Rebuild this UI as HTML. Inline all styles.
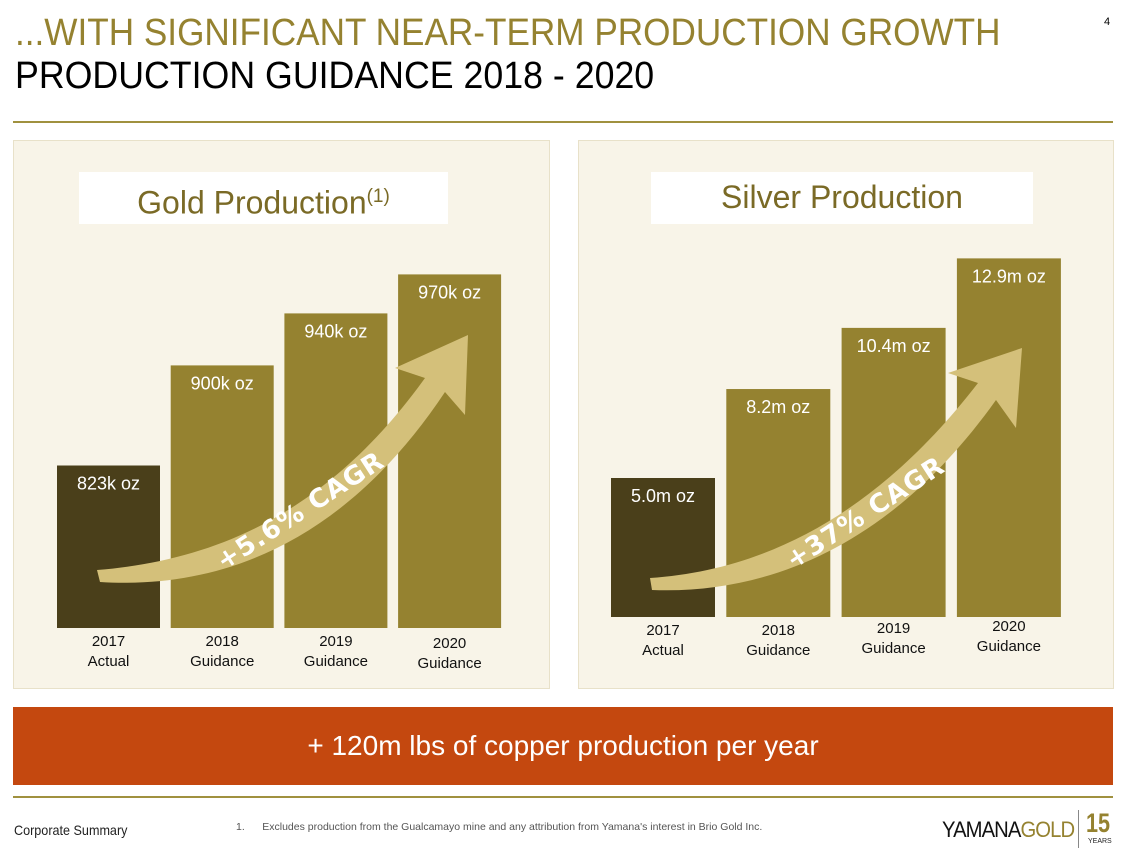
<!DOCTYPE html>
<html><head><meta charset="utf-8"><style>
body{margin:0;width:1145px;height:850px;background:#fff;position:relative;overflow:hidden;font-family:"Liberation Sans",sans-serif}
.a{position:absolute}
.t1{left:15px;top:12px;font-size:38px;color:#958230;transform:scaleX(0.925);transform-origin:left top;white-space:nowrap}
.t2{left:15px;top:55px;font-size:38px;color:#000;transform:scaleX(0.94);transform-origin:left top;white-space:nowrap}
.panel{background:#f8f4e8;border:1px solid #e8e1c9}
.ptitle{background:#fff;color:#7a6a26;font-size:32px;text-align:center;line-height:50px}
</style></head><body>
<div class="a t1">...WITH SIGNIFICANT NEAR-TERM PRODUCTION GROWTH</div>
<div class="a t2">PRODUCTION GUIDANCE 2018 - 2020</div>
<div class="a" style="left:1104px;top:16px;font-size:11px">4</div>
<div class="a" style="left:13px;top:121px;width:1100px;height:2px;background:#a0913f"></div>

<div class="a panel" style="left:13px;top:140px;width:535px;height:547px"></div>
<div class="a panel" style="left:578px;top:140px;width:534px;height:547px"></div>
<div class="a ptitle" style="left:79px;top:172px;width:369px;height:52px">Gold Production<sup style="font-size:19px">(1)</sup></div>
<div class="a ptitle" style="left:651px;top:172px;width:382px;height:52px">Silver Production</div>

<svg class="a" style="left:0;top:0" width="1145" height="850" id="chart"></svg>

<div class="a" style="left:13px;top:707px;width:1100px;height:78px;background:#c4480f;color:#fff;font-size:28px;text-align:center;line-height:78px">+ 120m lbs of copper production per year</div>
<div class="a" style="left:13px;top:796px;width:1100px;height:2px;background:#a0913f"></div>
<div class="a" style="left:14px;top:822px;font-size:14px;color:#222;transform:scaleX(0.9);transform-origin:left">Corporate Summary</div>
<div class="a" style="left:236px;top:821px;font-size:10.5px;color:#555;white-space:nowrap">1.&nbsp;&nbsp;&nbsp;&nbsp;&nbsp;&nbsp;Excludes production from the Gualcamayo mine and any attribution from Yamana's interest in Brio Gold Inc.</div>
<div class="a" style="left:942px;top:817px;font-size:22px;letter-spacing:-1px;transform:scaleX(0.92);transform-origin:left;white-space:nowrap"><span style="color:#111">YAMANA</span><span style="color:#958230">GOLD</span></div>
<div class="a" style="left:1078px;top:810px;width:1px;height:38px;background:#888"></div>
<div class="a" style="left:1086px;top:808px;font-size:27px;font-weight:bold;color:#958230;transform:scaleX(0.8);transform-origin:left">15</div>
<div class="a" style="left:1088px;top:838px;font-size:7px;color:#222">YEARS</div>

<script>
const goldCats=["2017|Actual","2018|Guidance","2019|Guidance","2020|Guidance"];
const goldValues=[823,900,940,970];
const goldLabels=["823k oz","900k oz","940k oz","970k oz"];
const silverCats=["2017|Actual","2018|Guidance","2019|Guidance","2020|Guidance"];
const silverValues=[5.0,8.2,10.4,12.9];
const silverLabels=["5.0m oz","8.2m oz","10.4m oz","12.9m oz"];
const goldCagr="+5.6% CAGR", silverCagr="+37% CAGR";

const svg=document.getElementById('chart');
const NS="http://www.w3.org/2000/svg";
function mk(tag,attrs,parent){const e=document.createElementNS(NS,tag);for(const k in attrs)e.setAttribute(k,attrs[k]);(parent||svg).appendChild(e);return e;}
function draw(cfg){
  const g=mk('g',{});
  
  
  const y=v=>cfg.bottom-(v-cfg.base)*cfg.scale;
  cfg.vals.forEach((v,i)=>{
    const x=cfg.x0+i*cfg.step;
    const r=mk('rect',{x:x,y:y(v),width:cfg.w,height:cfg.bottom-y(v),fill:i==0?'#4a3f1a':'#958230'},g);
    
    
    const t=mk('text',{x:x+cfg.w/2,y:y(v)+24,fill:'#fff','font-size':18,'text-anchor':'middle','font-family':'Liberation Sans, sans-serif'},g);
    t.textContent=cfg.labels[i];
    
    
    const parts=cfg.cats[i].split('|');
    parts.forEach((p,j)=>{
      const c=mk('text',{x:x+cfg.w/2,y:cfg.bottom+18+j*20+(cfg.off[i]||0),fill:'#111','font-size':15,'text-anchor':'middle','font-family':'Liberation Sans, sans-serif'},g);
      c.textContent=p;
      
      
    });
  });
  const a=cfg.arrow;
  const p=mk('path',{d:a.d,fill:'#d4c07a'},g);
  
  
  const ct=mk('text',{x:a.tx,y:a.ty,fill:'#fff','font-size':26,'font-weight':'bold','font-family':'DejaVu Sans, sans-serif','text-anchor':'middle',transform:`rotate(-33 ${a.tx} ${a.ty})`,'letter-spacing':'1'},g);
  ct.textContent=cfg.cagr;
  
  
}
draw({name:'gold',vals:goldValues,labels:goldLabels,cats:goldCats,x0:57,step:113.7,w:103,bottom:628,base:698,scale:1.3,off:[0,0,0,2],cagr:goldCagr,
  arrow:{d:"M97,570 C220,560 330,510 425,378 L395,368 L468,335 L465,415 L445,392 C350,535 230,590 100,582 Z",tx:305,ty:518}});
draw({name:'silver',vals:silverValues,labels:silverLabels,cats:silverCats,x0:611,step:115.3,w:104,bottom:617,base:0,scale:27.8,off:[0,0,-2,-4],cagr:silverCagr,
  arrow:{d:"M650,578 C770,570 880,510 978,383 L948,373 L1022,348 L1016,428 L996,400 C900,535 780,595 652,590 Z",tx:870,ty:520}});
</script>
</body></html>
